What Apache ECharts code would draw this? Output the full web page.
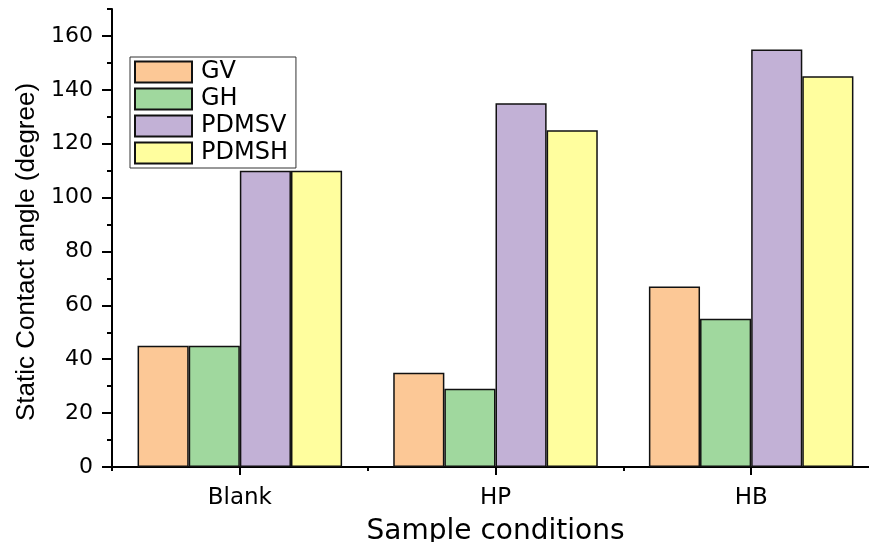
<!DOCTYPE html>
<html>
<head>
<meta charset="utf-8">
<script src="https://cdn.jsdelivr.net/npm/echarts@6/dist/echarts.min.js"></script>
<style>
html,body{margin:0;padding:0;background:#fff;}
#chart{width:869px;height:542px;}
</style>
</head>
<body>
<div id="chart"></div>
<script>
const categories = ['Blank', 'HP', 'HB'];
const seriesNames = ['GV', 'GH', 'PDMSV', 'PDMSH'];
const gvValues = [45, 35, 67];
const ghValues = [45, 29, 55];
const pdmsvValues = [110, 135, 155];
const pdmshValues = [110, 125, 145];
const yMajorTicks = [0, 20, 40, 60, 80, 100, 120, 140, 160];

const colors = ['#FCC896', '#A0D89E', '#C2B1D6', '#FFFE9E'];
const allValues = [gvValues, ghValues, pdmsvValues, pdmshValues];
const FONT = 'DejaVu Sans, sans-serif';
const FONT_Y = 'Liberation Sans, Arial, sans-serif';

const chart = echarts.init(document.getElementById('chart'));
chart.setOption({
  animation: false,
  backgroundColor: '#fff',
  textStyle: { fontFamily: FONT, color: '#000' },
  grid: { left: 112, width: 767, top: 9, bottom: 75, containLabel: false, outerBoundsMode: 'none' },
  legend: {
    orient: 'vertical',
    left: 130, top: 57,
    icon: 'rect',
    itemWidth: 57, itemHeight: 21, itemGap: 3,
    padding: [3, 8, 3, 4],
    borderColor: '#333', borderWidth: 1,
    textStyle: { fontFamily: FONT, fontSize: 24, color: '#000', padding: [0, 0, 0, 4] },
    data: seriesNames
  },
  xAxis: [{
    type: 'category',
    data: categories,
    axisLine: { show: true, lineStyle: { color: '#000', width: 2 } },
    axisTick: { show: true, alignWithLabel: true, length: 8, lineStyle: { color: '#000', width: 2 } },
    axisLabel: { fontFamily: FONT, fontSize: 23, color: '#000', margin: 20 },
    name: 'Sample conditions',
    nameLocation: 'middle',
    nameGap: 51,
    nameTextStyle: { fontFamily: FONT, fontSize: 28, color: '#000' },
    splitLine: { show: false }
  }, {
    type: 'category',
    data: categories,
    position: 'bottom',
    axisLine: { show: false },
    axisTick: { show: true, alignWithLabel: false, length: 4, lineStyle: { color: '#000', width: 2 } },
    axisLabel: { show: false },
    splitLine: { show: false }
  }],
  yAxis: [{
    type: 'value',
    min: 0, max: 170, interval: 10,
    axisLine: { show: true, lineStyle: { color: '#000', width: 2 } },
    axisTick: { show: true, length: 5, lineStyle: { color: '#000', width: 2 } },
    axisLabel: {
      fontFamily: FONT, fontSize: 22, color: '#000', margin: 19,
      formatter: function (v) { return v % 20 === 0 ? String(v) : ''; }
    },
    splitLine: { show: false },
    name: 'Static Contact angle (degree)',
    nameLocation: 'middle',
    nameGap: 70,
    nameTextStyle: { fontFamily: FONT_Y, fontSize: 26, color: '#000', padding: [0, 28, 0, 0] }
  }, {
    type: 'value',
    min: 0, max: 170, interval: 10,
    position: 'left',
    axisLine: { show: false },
    axisTick: { show: true, length: 10, customValues: yMajorTicks, lineStyle: { color: '#000', width: 2 } },
    axisLabel: { show: false },
    splitLine: { show: false }
  }],
  series: seriesNames.map(function (name, i) {
    return {
      name: name,
      type: 'bar',
      xAxisIndex: 0,
      yAxisIndex: 0,
      data: allValues[i],
      barGap: '0%',
      barCategoryGap: '20%',
      itemStyle: { color: colors[i], borderColor: '#111', borderWidth: 1.5 }
    };
  })
});
</script>
</body>
</html>
